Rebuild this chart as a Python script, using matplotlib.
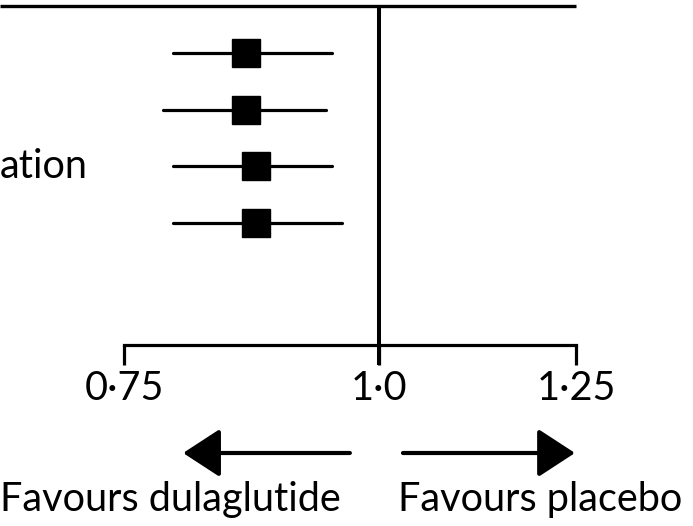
import numpy as np
import matplotlib
matplotlib.use("Agg")
import matplotlib.pyplot as plt

# Data (hazard ratios and 95% CI)
hr = [0.861, 0.861, 0.871, 0.871]
ci_low = [0.793, 0.784, 0.793, 0.793]
ci_high = [0.949, 0.942, 0.949, 0.959]
row_label = "ation"
tick_values = [0.75, 1.0, 1.25]
tick_labels = ["0\u00b775", "1\u00b70", "1\u00b725"]
left_text = "Favours dulaglutide"
right_text = "Favours placebo"

W, H = 693, 526
fig = plt.figure(figsize=(W / 100, H / 100), dpi=100)
ax = fig.add_axes([0, 0, 1, 1])
ax.set_xscale("log")
ax.set_xlim(0.6518, 1.4267)
ax.set_ylim(H, 0)  # y in pixel-like units, top = 0
ax.axis("off")

font = ["Lato", "DejaVu Sans"]
fs = 28.5
lw = 2.3

row_y = [53 + 56.7 * i for i in range(len(hr))]

# top rule
ax.plot([0.6518, 1.25], [5.5, 5.5], color="black", lw=2.4, solid_capstyle="butt")
# null line
ax.plot([1.0, 1.0], [5.5, 365], color="black", lw=2.9, solid_capstyle="butt")

# CI lines and squares
for y, h, lo, hi in zip(row_y, hr, ci_low, ci_high):
    ax.plot([lo, hi], [y, y], color="black", lw=lw, solid_capstyle="round", zorder=2)
    ax.plot([h], [y], marker="s", markersize=19.5, color="black", zorder=3)

ax.text(0.6518 * np.exp(88 / 884.5), row_y[2], row_label, ha="right", va="center",
        fontsize=fs, family=font)

# x axis
axis_y = 345
ax.plot([tick_values[0], tick_values[-1]], [axis_y, axis_y], color="black", lw=lw,
        solid_capstyle="projecting")
for v, lab in zip(tick_values, tick_labels):
    ax.plot([v, v], [axis_y, 365], color="black", lw=lw, solid_capstyle="butt")
    ax.text(v, 389, lab, ha="center", va="center", fontsize=fs, family=font)

# arrows
arrow_y = 453
arrowprops = dict(arrowstyle="-|>,head_length=1.15,head_width=0.75", mutation_scale=20,
                  lw=3, color="black", shrinkA=0, shrinkB=0)
ax.annotate("", xy=(0.8017, arrow_y), xytext=(0.968, arrow_y), arrowprops=arrowprops)
ax.annotate("", xy=(1.2485, arrow_y), xytext=(1.0279, arrow_y), arrowprops=arrowprops)

ax.text(0.6518 * np.exp(0 / 884.5), 500, left_text, ha="left", va="center",
        fontsize=fs, family=font)
ax.text(0.6518 * np.exp(398 / 884.5), 500, right_text, ha="left", va="center",
        fontsize=fs, family=font)

fig.savefig("out.png", dpi=100)
